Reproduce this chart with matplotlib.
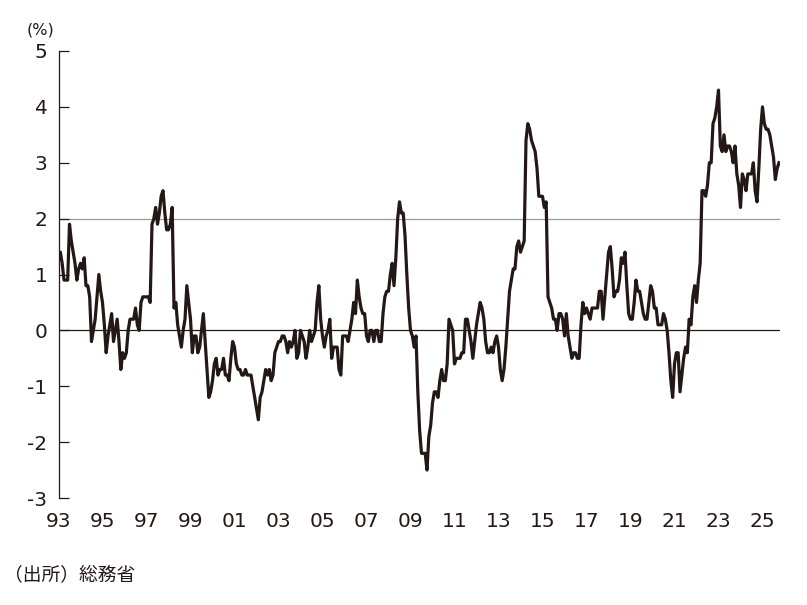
import matplotlib
matplotlib.use("Agg")
import matplotlib.pyplot as plt
import numpy as np

# Japan CPI (all items), year-on-year % change, monthly from Jan 1993
cpi_1990s = [
    1.3, 1.4, 1.2, 0.9, 0.9, 0.9, 1.9, 1.6, 1.4, 1.2, 0.9, 1.1,      # 1993
    1.2, 1.1, 1.3, 0.8, 0.8, 0.6, -0.2, 0.0, 0.2, 0.6, 1.0, 0.7,     # 1994
    0.5, 0.1, -0.4, -0.1, 0.1, 0.3, -0.2, 0.0, 0.2, -0.2, -0.7, -0.4,  # 1995
    -0.5, -0.4, 0.0, 0.2, 0.2, 0.2, 0.4, 0.1, 0.0, 0.5, 0.6, 0.6,    # 1996
    0.6, 0.6, 0.5, 1.9, 2.0, 2.2, 1.9, 2.1, 2.4, 2.5, 2.1, 1.8,      # 1997
    1.8, 1.9, 2.2, 0.4, 0.5, 0.1, -0.1, -0.3, 0.0, 0.2, 0.8, 0.5,    # 1998
    0.2, -0.4, -0.1, -0.1, -0.4, -0.3, 0.0, 0.3, -0.2, -0.7, -1.2, -1.1,  # 1999
]
cpi_2000s = [
    -0.9, -0.6, -0.5, -0.8, -0.7, -0.7, -0.5, -0.8, -0.8, -0.9, -0.5, -0.2,  # 2000
    -0.3, -0.6, -0.7, -0.7, -0.8, -0.8, -0.7, -0.8, -0.8, -0.8, -1.0, -1.2,  # 2001
    -1.4, -1.6, -1.2, -1.1, -0.9, -0.7, -0.8, -0.7, -0.9, -0.8, -0.4, -0.3,  # 2002
    -0.2, -0.2, -0.1, -0.1, -0.2, -0.4, -0.2, -0.3, -0.2, 0.0, -0.5, -0.4,   # 2003
    0.0, -0.1, -0.2, -0.5, -0.3, 0.0, -0.2, -0.1, 0.0, 0.5, 0.8, 0.2,        # 2004
    -0.1, -0.3, -0.1, 0.0, 0.2, -0.5, -0.3, -0.3, -0.3, -0.7, -0.8, -0.1,    # 2005
    -0.1, -0.1, -0.2, 0.0, 0.2, 0.5, 0.3, 0.9, 0.6, 0.4, 0.3, 0.3,           # 2006
    -0.1, -0.2, 0.0, 0.0, -0.2, 0.0, 0.0, -0.2, -0.2, 0.3, 0.6, 0.7,         # 2007
    0.7, 1.0, 1.2, 0.8, 1.3, 2.0, 2.3, 2.1, 2.1, 1.7, 1.0, 0.4,              # 2008
    0.0, -0.1, -0.3, -0.1, -1.1, -1.8, -2.2, -2.2, -2.2, -2.5, -1.9, -1.7,   # 2009
]
cpi_2010s = [
    -1.3, -1.1, -1.1, -1.2, -0.9, -0.7, -0.9, -0.9, -0.6, 0.2, 0.1, 0.0,   # 2010
    -0.6, -0.5, -0.5, -0.5, -0.4, -0.4, 0.2, 0.2, 0.0, -0.2, -0.5, -0.2,   # 2011
    0.1, 0.3, 0.5, 0.4, 0.2, -0.2, -0.4, -0.4, -0.3, -0.4, -0.2, -0.1,     # 2012
    -0.3, -0.7, -0.9, -0.7, -0.3, 0.2, 0.7, 0.9, 1.1, 1.1, 1.5, 1.6,       # 2013
    1.4, 1.5, 1.6, 3.4, 3.7, 3.6, 3.4, 3.3, 3.2, 2.9, 2.4, 2.4,            # 2014
    2.4, 2.2, 2.3, 0.6, 0.5, 0.4, 0.2, 0.2, 0.0, 0.3, 0.3, 0.2,            # 2015
    -0.1, 0.3, -0.1, -0.3, -0.5, -0.4, -0.4, -0.5, -0.5, 0.1, 0.5, 0.3,    # 2016
    0.4, 0.3, 0.2, 0.4, 0.4, 0.4, 0.4, 0.7, 0.7, 0.2, 0.6, 1.0,            # 2017
    1.4, 1.5, 1.1, 0.6, 0.7, 0.7, 0.9, 1.3, 1.2, 1.4, 0.8, 0.3,            # 2018
    0.2, 0.2, 0.5, 0.9, 0.7, 0.7, 0.5, 0.3, 0.2, 0.2, 0.5, 0.8,            # 2019
]
cpi_2020s = [
    0.7, 0.4, 0.4, 0.1, 0.1, 0.1, 0.3, 0.2, 0.0, -0.4, -0.9, -1.2,         # 2020
    -0.6, -0.4, -0.4, -1.1, -0.8, -0.5, -0.3, -0.4, 0.2, 0.1, 0.6, 0.8,    # 2021
    0.5, 0.9, 1.2, 2.5, 2.5, 2.4, 2.6, 3.0, 3.0, 3.7, 3.8, 4.0,            # 2022
    4.3, 3.3, 3.2, 3.5, 3.2, 3.3, 3.3, 3.2, 3.0, 3.3, 2.8, 2.6,            # 2023
    2.2, 2.8, 2.7, 2.5, 2.8, 2.8, 2.8, 3.0, 2.5, 2.3, 2.9, 3.6,            # 2024
    4.0, 3.7, 3.6, 3.6, 3.5, 3.3, 3.1, 2.7, 2.9, 3.0,                      # 2025
]
start_year = 1993
tick_years = list(range(1993, 2026, 2))
tick_labels = [f"{y % 100:02d}" for y in tick_years]
y_ticks = [-3, -2, -1, 0, 1, 2, 3, 4, 5]
unit_label = "(%)"
source_label = "（出所）総務省"

values = np.array(cpi_1990s + cpi_2000s + cpi_2010s + cpi_2020s)
t = start_year + np.arange(len(values)) / 12.0

plt.rcParams['axes.unicode_minus'] = False
fig = plt.figure(figsize=(8.07, 6.05), dpi=100)
ax = fig.add_axes([58.5 / 807, 1 - 498 / 605, (780 - 58.5) / 807, (498 - 51) / 605])

ax.axhline(2, color="#9a9a9a", lw=0.9, zorder=1)
ax.axhline(0, color="#231815", lw=0.9, zorder=1)
ax.plot(t, values, color="#231815", lw=2.3, solid_joinstyle="round", zorder=3)

ax.set_xlim(1993.0, 1993.0 + (780 - 58.5) / 22.0)
ax.set_ylim(-3, 5)
ax.set_yticks(y_ticks)
ax.set_yticklabels([str(v) for v in y_ticks], fontfamily="DejaVu Sans", fontsize=14.5, color="#231815")
ax.set_xticks(tick_years)
ax.set_xticklabels(tick_labels, fontfamily="DejaVu Sans", fontsize=14.5, color="#231815")

for s in ["top", "right", "bottom"]:
    ax.spines[s].set_visible(False)
ax.spines["left"].set_color("#231815")
ax.spines["left"].set_linewidth(0.9)
ax.tick_params(axis="y", direction="in", length=7.5, width=0.9, color="#231815", pad=8)
ax.tick_params(axis="x", length=0, pad=10)

fig.text(40 / 807, 1 - 30 / 605, unit_label, ha="center", va="center",
         fontsize=11.5, color="#231815", family=["DejaVu Sans"])
fig.text(4 / 807, 1 - 576 / 605, source_label, ha="left", va="center",
         fontsize=13.5, color="#231815", family=["Noto Sans CJK JP", "DejaVu Sans"])

fig.savefig("out.png", dpi=100)
